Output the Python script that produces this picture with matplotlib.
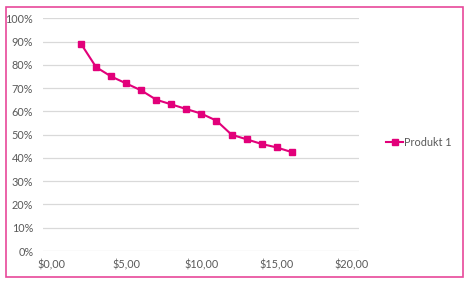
import matplotlib
matplotlib.use("Agg")
import matplotlib.pyplot as plt
from matplotlib.patches import Rectangle
from matplotlib.ticker import FuncFormatter, MultipleLocator

# data
preis = [2, 3, 4, 5, 6, 7, 8, 9, 10, 11, 12, 13, 14, 15, 16]
anteil = [0.89, 0.79, 0.75, 0.72, 0.69, 0.65, 0.63, 0.61, 0.59, 0.56,
          0.50, 0.48, 0.46, 0.445, 0.425]
serie = "Produkt 1"

pink = "#E2007A"
grau = "#595959"

plt.rcParams["font.family"] = ["Lato", "DejaVu Sans"]

fig = plt.figure(figsize=(4.7, 2.84), dpi=100)
ax = fig.add_axes([43 / 470, 33 / 284, 316 / 470, 232.7 / 284])

ax.plot(preis, anteil, color=pink, lw=1.5, marker="s", ms=5,
        markeredgecolor=pink, label=serie)

ax.set_xlim(-0.53, 20.47)
ax.set_ylim(0, 1)
ax.xaxis.set_major_locator(MultipleLocator(5))
ax.yaxis.set_major_locator(MultipleLocator(0.1))
# euro-style decimal comma
ax.xaxis.set_major_formatter(FuncFormatter(lambda v, p: ("$%.2f" % v).replace(".", ",")))
ax.yaxis.set_major_formatter(FuncFormatter(lambda v, p: "%d%%" % round(v * 100)))

ax.grid(axis="y", color="#D9D9D9", lw=0.9)
ax.set_axisbelow(True)
for s in ax.spines.values():
    s.set_visible(False)
ax.tick_params(length=0, colors=grau, labelsize=7.8)
ax.tick_params(axis="x", pad=6)
ax.tick_params(axis="y", pad=7)

ax.legend(loc="center left", bbox_to_anchor=(386 / 470, 0.5),
          bbox_transform=fig.transFigure, frameon=False, fontsize=7.8,
          labelcolor=grau, handlelength=1.6, handletextpad=0.1,
          borderpad=0, borderaxespad=0)

fig.patches.append(Rectangle((6 / 470, 7 / 284), 457 / 470, 270 / 284,
                             transform=fig.transFigure, fill=False,
                             edgecolor="#E8489A", lw=1.2))

fig.savefig("out.png", dpi=100)
